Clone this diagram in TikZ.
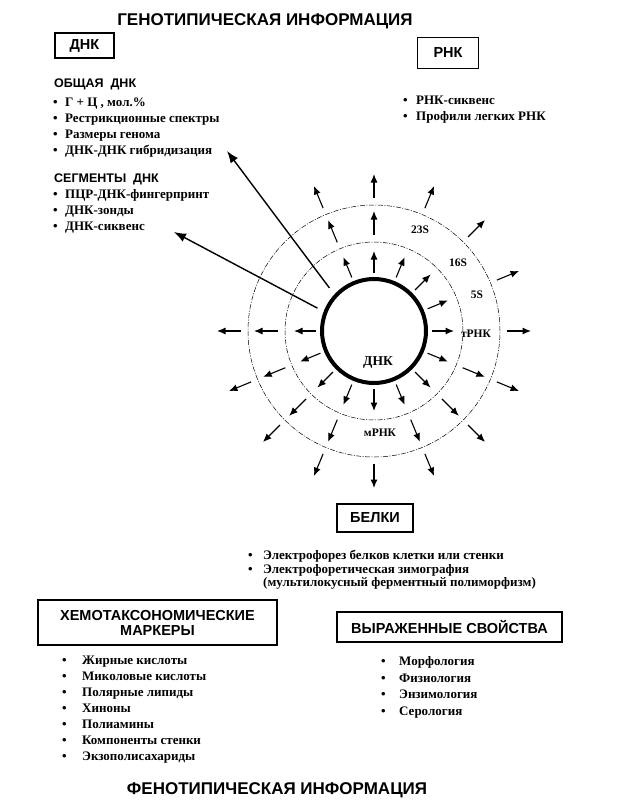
\documentclass[tikz,border=0pt]{standalone}
\usepackage{fontspec}
\setmainfont{Liberation Serif}
\setsansfont{Liberation Sans}
\usetikzlibrary{arrows.meta,calc}
\newcommand{\bl}[1]{\makebox[#1][l]{\textbullet}}
\begin{document}
\begin{tikzpicture}[x=1pt,y=-1pt,
  hd/.style={font=\sffamily\bfseries\fontsize{12.5}{14}\selectfont, anchor=west, inner sep=0, text height=9pt, text depth=0pt},
  itm/.style={font=\bfseries\fontsize{13}{15}\selectfont, anchor=west, inner sep=0, text height=8pt, text depth=2pt},
  bx/.style={draw, line width=1.6pt, inner sep=0, font=\sffamily\bfseries\fontsize{14.5}{17}\selectfont, align=center},
  ttl/.style={font=\sffamily\bfseries\fontsize{17}{20}\selectfont, inner sep=0},
  ring/.style={line width=0.5pt, dash pattern=on 5pt off 1.5pt on 1pt off 1.5pt},
  sar/.style={line width=1.1pt, -{Latex[length=8.5pt,width=7pt]}},
  bar/.style={line width=1.4pt, -{Latex[length=12pt,width=9pt]}},
  lbl/.style={font=\bfseries\fontsize{11.5}{13}\selectfont, inner sep=0}
]
\useasboundingbox (0,0) rectangle (636,812);

% titles
\node[ttl] (tgen) at (265,21) {ГЕНОТИПИЧЕСКАЯ ИНФОРМАЦИЯ};
\node[ttl] (tfen) at (277,790) {ФЕНОТИПИЧЕСКАЯ ИНФОРМАЦИЯ};

% DNA block
\node[bx, minimum width=59pt, minimum height=25pt] (bdna) at (84.5,45.5) {ДНК};
\node[hd] (hobs) at (54,83) {ОБЩАЯ\ \ ДНК};
\node[itm] (d1) at (53,103) {\bl{12pt}Г + Ц , мол.\%};
\node[itm] (d2) at (53,119) {\bl{12pt}Рестрикционные спектры};
\node[itm] (d3) at (53,135) {\bl{12pt}Размеры генома};
\node[itm] (d4) at (53,151) {\bl{12pt}ДНК-ДНК гибридизация};
\node[hd] (hseg) at (54,178) {СЕГМЕНТЫ\ \ ДНК};
\node[itm] (s1) at (53,195) {\bl{12pt}ПЦР-ДНК-фингерпринт};
\node[itm] (s2) at (53,211) {\bl{12pt}ДНК-зонды};
\node[itm] (s3) at (53,227) {\bl{12pt}ДНК-сиквенс};

% RNA block
\node[bx, minimum width=61pt, minimum height=31pt] (brna) at (448,53) {РНК};
\node[itm] (r1) at (403,101) {\bl{13pt}РНК-сиквенс};
\node[itm] (r2) at (403,117) {\bl{13pt}Профили легких РНК};

% proteins
\node[bx, minimum width=76pt, minimum height=28pt] (bprot) at (375,518) {БЕЛКИ};
\node[itm] (p1) at (248,556) {\bl{15pt}Электрофорез белков клетки или стенки};
\node[itm] (p2) at (248,570) {\bl{15pt}Электрофоретическая зимография};
\node[itm] (p3) at (263,583) {(мультилокусный ферментный полиморфизм)};

% chemotaxonomic
\node[bx, minimum width=239pt, minimum height=45pt] (bchem) at (157.5,622.5) {ХЕМОТАКСОНОМИЧЕСКИЕ\\[-2pt]МАРКЕРЫ};
\node[itm] (c1) at (62,661) {\bl{20pt}Жирные кислоты};
\node[itm] (c2) at (62,677) {\bl{20pt}Миколовые кислоты};
\node[itm] (c3) at (62,693) {\bl{20pt}Полярные липиды};
\node[itm] (c4) at (62,709) {\bl{20pt}Хиноны};
\node[itm] (c5) at (62,725) {\bl{20pt}Полиамины};
\node[itm] (c6) at (62,741) {\bl{20pt}Компоненты стенки};
\node[itm] (c7) at (62,757) {\bl{20pt}Экзополисахариды};

% expressed properties
\node[bx, minimum width=225pt, minimum height=30pt] (bexp) at (449.5,627) {ВЫРАЖЕННЫЕ СВОЙСТВА};
\node[itm] (e1) at (381,662) {\bl{18pt}Морфология};
\node[itm] (e2) at (381,679) {\bl{18pt}Физиология};
\node[itm] (e3) at (381,695) {\bl{18pt}Энзимология};
\node[itm] (e4) at (381,712) {\bl{18pt}Серология};

% central circle
\coordinate (c) at (374,331);
\node[draw, circle, line width=4pt, minimum size=104pt, inner sep=0] (dna) at (c) {};
\draw[ring] (c) circle (89pt);
\draw[ring] (c) circle (126pt);

\foreach \a in {0,22.5,45,67.5,90,112.5,180,202.5,225,247.5,270,292.5,315,337.5}
  \draw[sar] ($(c)+(-\a:58)$) -- ($(c)+(-\a:80)$);
\foreach \a in {90,112.5,180,202.5,225,247.5,292.5,315,337.5}
  \draw[sar] ($(c)+(-\a:96)$) -- ($(c)+(-\a:120)$);
\foreach \a in {0,22.5,45,67.5,90,112.5,180,202.5,225,247.5,270,292.5,315,337.5}
  \draw[sar] ($(c)+(-\a:133)$) -- ($(c)+(-\a:157)$);

% big arrows
\coordinate (h1) at (227,151);
\coordinate (h2) at (174,232);
\draw[bar] ($(c)+(-136:62)$) -- (h1);
\draw[bar] ($(c)+(-158:61)$) -- (h2);

% ring labels
\node[lbl] (l23) at (420,230) {23S};
\node[lbl] (l16) at (458,263) {16S};
\node[lbl] (l5) at (477,295) {5S};
\node[lbl] (lt) at (476,334) {тРНК};
\node[lbl] (lm) at (380,433) {мРНК};
\node[lbl, font=\bfseries\fontsize{13.5}{15}\selectfont] (ldna) at (378,363) {ДНК};
\end{tikzpicture}
\end{document}
